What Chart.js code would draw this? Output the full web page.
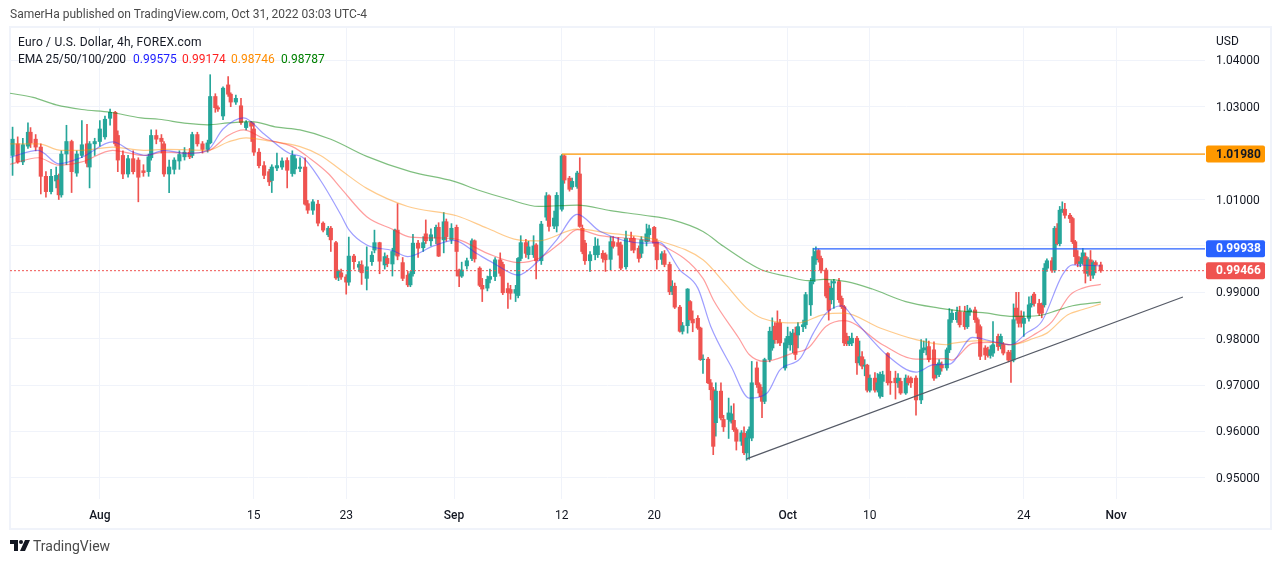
<!DOCTYPE html>
<html>
<head>
<meta charset="utf-8">
<title>EUR/USD 4h</title>
<script src="https://cdn.jsdelivr.net/npm/chart.js@4"></script>
<style>
  body { margin: 0; background: #fff; font-family: Roboto, sans-serif; font-size: 12px; color: #131722; }
  #box { position: relative; width: 1280px; height: 563px; overflow: hidden; }
  #box canvas { position: absolute; left: 0; top: 0; }
  .txt { position: absolute; white-space: nowrap; line-height: 14px; }
  #frame { position: absolute; left: 9px; top: 26px; width: 1259px; height: 500px; border: 2px solid #f0f3fa; }
</style>
</head>
<body>
<div id="box">
  <div id="frame"></div>
  <canvas id="chart" width="1280" height="563"></canvas>
  <div class="txt" style="left:10px;top:7px;color:#4a4a4a">SamerHa published on TradingView.com, Oct 31, 2022 03:03 UTC-4</div>
  <div class="txt" style="left:18px;top:35px;letter-spacing:0.2px">Euro / U.S. Dollar, 4h, FOREX.com</div>
  <div class="txt" style="left:18px;top:52px;letter-spacing:-0.15px">EMA 25/50/100/200</div>
  <div class="txt" style="left:133px;top:52px;color:#2020ff">0.99575</div>
  <div class="txt" style="left:182px;top:52px;color:#ff2020">0.99174</div>
  <div class="txt" style="left:231px;top:52px;color:#ff8c00">0.98746</div>
  <div class="txt" style="left:281px;top:52px;color:#008000">0.98787</div>
  <div class="txt" style="left:1216px;top:34px">USD</div>
  <svg style="position:absolute;left:10px;top:540px" width="20" height="11" viewBox="0 0 20 11">
    <path d="M0 0h8v11H4V4H0z M15 0h5l-5 11h-5z" fill="#131722"/><circle cx="11" cy="2" r="2" fill="#131722"/>
  </svg>
  <div class="txt" style="left:33px;top:538px;font-size:14px;line-height:16px;color:#4a4a4a">TradingView</div>
</div>
<script>
// 4h bar numbers counted from the left edge of the chart
const bars = [
  1,3,5,7,8,10,12,14,16,18, 19,20,22,24,26,28,30,31,33,35,
  37,39,41,42,44,46,48,50,52,54, 55,57,59,60,62,64,66,68,70,71,
  73,75,77,78,80,81,83,85,86,88, 90,92,94,95,97,99,101,102,104,106,
  108,110,111,113,115,116,118,120,122,124, 125,127,128,129,131,132,134,136,137,139,
  141,142,144,146,147,149,150,151,153,155, 156,157,159,161,162,164,166,167,169,170,
  172,174,175,176,178,180,181,183,184,186, 187,189,191,192,194,195,197,198,199,201,
  202,204,205,207,209,210,212,213,215,216, 218,219,221,222,223,224,226,228,229,231,
  232,234,235,237,238,240,242,243,245,246, 248,249,251,252,254,255,257,258,259,261,
  262,264,265,266,268,269,270,272,273,274, 275,277,278,280,281,282,283,285,286,287,
  288,289,291,292,293,294,296,297,298,299, 300,302,303,304,305,306,307,309,310,312,
  313,314,315,316,318,319,320,321,323,324, 325,326,327,328,330,331,332,333,334,335,
  337,338,339,340,342,343,345,346,347,349, 350,351,353,355,356,357,358,360,361,362,
  363,365,366,367,369,370,372,373,374,376, 377,378,380,381,382,383,385,386,387,389,
  390,391,392,393,394,395,397,398,399,401, 402,403,404,406,407,408,409,410,411,413,
  414,415,416,417,418,419,420,421,422,423, 425
];
const opens = [
  1.0195,1.0220,1.0181,1.0215,1.0245,1.0230,1.0213,1.0150,1.0117,1.0140,
  1.0142,1.0110,1.0198,1.0225,1.0157,1.0195,1.0220,1.0170,1.0220,1.0225,
  1.0235,1.0275,1.0288,1.0238,1.0195,1.0155,1.0188,1.0185,1.0162,1.0160,
  1.0190,1.0238,1.0232,1.0220,1.0155,1.0165,1.0183,1.0192,1.0202,1.0195,
  1.0240,1.0220,1.0208,1.0222,1.0322,1.0298,1.0280,1.0347,1.0327,1.0310,
  1.0302,1.0255,1.0266,1.0252,1.0202,1.0173,1.0160,1.0141,1.0168,1.0170,
  1.0184,1.0156,1.0166,1.0167,1.0170,1.0091,1.0077,1.0090,1.0049,1.0024,
  1.0038,1.0007,0.9933,0.9942,0.9933,0.9922,0.9978,0.9954,0.9959,0.9930,
  0.9966,0.9991,1.0007,0.9959,0.9973,0.9961,0.9988,1.0034,0.9964,0.9937,
  0.9916,0.9940,1.0006,0.9996,1.0026,1.0011,1.0017,1.0040,1.0013,1.0052,
  1.0013,1.0040,0.9948,0.9935,0.9957,0.9973,1.0011,0.9952,0.9915,0.9909,
  0.9928,0.9934,0.9970,0.9960,0.9908,0.9906,0.9898,0.9893,0.9973,1.0007,
  0.9981,0.9981,1.0002,0.9968,1.0062,1.0108,1.0043,1.0043,1.0079,1.0194,
  1.0146,1.0127,1.0128,1.0155,1.0038,1.0006,0.9968,0.9981,0.9981,0.9984,
  0.9981,0.9971,1.0009,1.0007,1.0002,0.9955,1.0016,1.0016,0.9995,0.9984,
  1.0009,1.0024,1.0040,1.0009,0.9971,0.9983,0.9960,0.9902,0.9913,0.9868,
  0.9816,0.9828,0.9880,0.9842,0.9844,0.9823,0.9755,0.9756,0.9705,0.9690,
  0.9619,0.9687,0.9626,0.9626,0.9622,0.9624,0.9604,0.9579,0.9596,0.9554,
  0.9586,0.9586,0.9737,0.9701,0.9687,0.9665,0.9755,0.9780,0.9827,0.9834,
  0.9834,0.9737,0.9791,0.9787,0.9787,0.9812,0.9808,0.9826,0.9830,0.9873,
  0.9923,0.9970,0.9990,0.9973,0.9948,0.9913,0.9884,0.9920,0.9923,0.9887,
  0.9869,0.9805,0.9789,0.9791,0.9801,0.9748,0.9761,0.9741,0.9743,0.9689,
  0.9715,0.9690,0.9676,0.9708,0.9768,0.9708,0.9715,0.9705,0.9708,0.9683,
  0.9715,0.9715,0.9715,0.9668,0.9776,0.9776,0.9783,0.9776,0.9723,0.9723,
  0.9744,0.9737,0.9776,0.9841,0.9841,0.9858,0.9857,0.9826,0.9858,0.9862,
  0.9841,0.9826,0.9780,0.9776,0.9764,0.9769,0.9805,0.9785,0.9787,0.9771,
  0.9769,0.9754,0.9866,0.9848,0.9849,0.9833,0.9844,0.9873,0.9896,0.9876,
  0.9873,0.9873,0.9952,0.9968,0.9948,1.0038,1.0005,1.0077,1.0079,1.0066,
  1.0059,1.0009,0.9977,0.9962,0.9966,0.9977,0.9941,0.9970,0.9937,0.9964,0.9959
];
const highs = [
  1.0256,1.0235,1.0232,1.0265,1.0255,1.0240,1.0220,1.0160,1.0165,1.0170,
  1.0155,1.0205,1.0260,1.0228,1.0205,1.0270,1.0262,1.0225,1.0232,1.0270,
  1.0280,1.0295,1.0290,1.0248,1.0205,1.0195,1.0205,1.0190,1.0175,1.0198,
  1.0250,1.0250,1.0240,1.0225,1.0185,1.0190,1.0205,1.0212,1.0210,1.0245,
  1.0245,1.0225,1.0228,1.0369,1.0328,1.0302,1.0343,1.0365,1.0330,1.0325,
  1.0318,1.0270,1.0268,1.0265,1.0210,1.0182,1.0165,1.0175,1.0200,1.0190,
  1.0190,1.0205,1.0195,1.0190,1.0190,1.0098,1.0100,1.0098,1.0052,1.0042,
  1.0042,1.0010,0.9948,0.9950,0.9938,1.0019,0.9982,0.9966,0.9968,0.9998,
  0.9988,1.0034,1.0008,0.9985,0.9980,0.9995,1.0036,1.0091,0.9975,0.9945,
  0.9945,1.0025,1.0012,1.0020,1.0056,1.0037,1.0045,1.0050,1.0072,1.0058,
  1.0048,1.0045,0.9950,0.9965,0.9974,1.0015,1.0013,0.9955,0.9930,0.9935,
  0.9950,0.9975,0.9985,0.9965,0.9920,0.9915,0.9915,0.9975,1.0022,1.0014,
  1.0010,1.0022,1.0005,1.0053,1.0115,1.0110,1.0075,1.0115,1.0197,1.0196,
  1.0150,1.0146,1.0161,1.0190,1.0045,1.0012,0.9988,1.0018,1.0015,0.9990,
  0.9985,1.0020,1.0020,1.0018,1.0008,1.0032,1.0030,1.0020,1.0000,1.0020,
  1.0047,1.0045,1.0042,1.0015,0.9988,0.9990,0.9965,0.9925,0.9920,0.9872,
  0.9835,0.9908,0.9882,0.9860,0.9850,0.9825,0.9765,0.9760,0.9712,0.9695,
  0.9705,0.9705,0.9635,0.9672,0.9655,0.9660,0.9608,0.9602,0.9610,0.9600,
  0.9610,0.9751,0.9750,0.9705,0.9695,0.9758,0.9825,0.9845,0.9835,0.9860,
  0.9842,0.9800,0.9825,0.9815,0.9820,0.9825,0.9835,0.9840,0.9900,0.9930,
  0.9995,0.9998,0.9993,0.9978,0.9952,0.9920,0.9925,0.9928,0.9930,0.9892,
  0.9872,0.9812,0.9805,0.9812,0.9805,0.9795,0.9772,0.9755,0.9745,0.9722,
  0.9727,0.9725,0.9728,0.9730,0.9770,0.9730,0.9730,0.9725,0.9715,0.9722,
  0.9720,0.9718,0.9720,0.9798,0.9795,0.9800,0.9795,0.9793,0.9745,0.9755,
  0.9750,0.9780,0.9865,0.9862,0.9868,0.9870,0.9870,0.9872,0.9866,0.9868,
  0.9845,0.9830,0.9785,0.9782,0.9785,0.9837,0.9810,0.9810,0.9792,0.9775,
  0.9775,0.9875,0.9900,0.9900,0.9860,0.9858,0.9890,0.9892,0.9900,0.9885,
  0.9877,0.9962,0.9972,0.9975,1.0042,1.0048,1.0085,1.0095,1.0092,1.0070,
  1.0062,1.0012,0.9990,0.9975,0.9995,0.9985,0.9975,0.9990,0.9968,0.9968,0.9965
];
const lows = [
  1.0152,1.0178,1.0175,1.0210,1.0212,1.0205,1.0112,1.0105,1.0112,1.0125,
  1.0100,1.0105,1.0175,1.0115,1.0150,1.0190,1.0170,1.0125,1.0195,1.0215,
  1.0230,1.0260,1.0215,1.0160,1.0145,1.0148,1.0155,1.0095,1.0150,1.0150,
  1.0185,1.0220,1.0200,1.0150,1.0115,1.0155,1.0165,1.0185,1.0188,1.0190,
  1.0215,1.0200,1.0202,1.0220,1.0288,1.0290,1.0272,1.0322,1.0300,1.0305,
  1.0262,1.0250,1.0225,1.0195,1.0168,1.0145,1.0130,1.0115,1.0162,1.0165,
  1.0125,1.0150,1.0155,1.0160,1.0088,1.0070,1.0068,1.0043,1.0030,1.0020,
  0.9988,0.9928,0.9925,0.9928,0.9896,0.9915,0.9950,0.9945,0.9917,0.9905,
  0.9958,0.9985,0.9940,0.9950,0.9955,0.9935,0.9980,0.9970,0.9925,0.9912,
  0.9912,0.9935,0.9975,0.9988,1.0005,1.0000,1.0005,0.9977,0.9985,1.0010,
  1.0005,0.9935,0.9912,0.9932,0.9950,0.9968,0.9965,0.9912,0.9880,0.9903,
  0.9920,0.9925,0.9935,0.9895,0.9865,0.9885,0.9880,0.9888,0.9968,0.9975,
  0.9972,0.9975,0.9929,0.9960,1.0055,1.0032,1.0037,1.0030,1.0075,1.0135,
  1.0118,1.0122,1.0124,1.0040,0.9983,0.9960,0.9945,0.9970,0.9975,0.9965,
  0.9945,0.9948,0.9995,0.9980,0.9948,0.9950,0.9990,0.9985,0.9965,0.9975,
  1.0000,1.0010,0.9999,0.9950,0.9960,0.9955,0.9895,0.9895,0.9865,0.9814,
  0.9810,0.9812,0.9840,0.9815,0.9820,0.9753,0.9725,0.9703,0.9668,0.9550,
  0.9590,0.9625,0.9600,0.9585,0.9618,0.9600,0.9560,0.9570,0.9550,0.9538,
  0.9540,0.9580,0.9695,0.9675,0.9630,0.9660,0.9750,0.9775,0.9790,0.9790,
  0.9785,0.9732,0.9780,0.9775,0.9770,0.9755,0.9780,0.9815,0.9822,0.9850,
  0.9918,0.9960,0.9965,0.9942,0.9888,0.9840,0.9875,0.9865,0.9878,0.9865,
  0.9785,0.9785,0.9785,0.9785,0.9723,0.9743,0.9735,0.9720,0.9685,0.9685,
  0.9685,0.9685,0.9672,0.9675,0.9700,0.9680,0.9670,0.9695,0.9680,0.9680,
  0.9700,0.9695,0.9635,0.9660,0.9770,0.9765,0.9750,0.9710,0.9715,0.9718,
  0.9730,0.9732,0.9770,0.9835,0.9835,0.9825,0.9820,0.9822,0.9850,0.9835,
  0.9800,0.9755,0.9755,0.9760,0.9758,0.9762,0.9775,0.9778,0.9765,0.9750,
  0.9706,0.9750,0.9840,0.9825,0.9825,0.9805,0.9838,0.9868,0.9870,0.9850,
  0.9845,0.9868,0.9945,0.9943,0.9943,1.0002,1.0000,1.0072,1.0060,1.0050,
  1.0005,0.9960,0.9955,0.9955,0.9960,0.9920,0.9935,0.9925,0.9930,0.9942,0.9943
];
const closes = [
  1.0230,1.0181,1.0218,1.0245,1.0222,1.0213,1.0150,1.0117,1.0150,1.0152,
  1.0110,1.0198,1.0225,1.0160,1.0198,1.0218,1.0178,1.0220,1.0225,1.0252,
  1.0273,1.0288,1.0220,1.0185,1.0155,1.0188,1.0160,1.0148,1.0158,1.0192,
  1.0238,1.0230,1.0225,1.0155,1.0170,1.0185,1.0197,1.0202,1.0192,1.0240,
  1.0220,1.0208,1.0222,1.0322,1.0298,1.0295,1.0340,1.0327,1.0310,1.0318,
  1.0266,1.0266,1.0258,1.0202,1.0173,1.0152,1.0138,1.0170,1.0173,1.0183,
  1.0163,1.0195,1.0188,1.0170,1.0090,1.0077,1.0095,1.0049,1.0034,1.0038,
  1.0013,0.9931,0.9945,0.9933,0.9922,0.9978,0.9966,0.9960,0.9942,0.9955,
  0.9980,1.0007,0.9967,0.9977,0.9962,0.9988,1.0034,0.9978,0.9930,0.9916,
  0.9940,1.0006,0.9995,1.0007,1.0011,1.0024,1.0040,0.9978,1.0052,1.0020,
  1.0038,0.9988,0.9935,0.9948,0.9968,1.0011,0.9972,0.9915,0.9907,0.9928,
  0.9934,0.9970,0.9941,0.9899,0.9899,0.9898,0.9906,0.9973,1.0007,0.9984,
  0.9998,1.0000,0.9968,1.0047,1.0108,1.0042,1.0060,1.0109,1.0194,1.0142,
  1.0122,1.0139,1.0157,1.0042,0.9988,0.9968,0.9981,0.9999,1.0000,0.9973,
  0.9970,1.0009,0.9999,0.9999,0.9952,1.0016,1.0009,0.9991,0.9973,1.0013,
  1.0026,1.0037,1.0006,0.9970,0.9983,0.9960,0.9901,0.9913,0.9868,0.9816,
  0.9828,0.9907,0.9841,0.9834,0.9823,0.9755,0.9756,0.9705,0.9690,0.9568,
  0.9687,0.9629,0.9610,0.9640,0.9638,0.9604,0.9579,0.9597,0.9554,0.9586,
  0.9604,0.9705,0.9701,0.9683,0.9665,0.9755,0.9816,0.9816,0.9798,0.9798,
  0.9791,0.9791,0.9805,0.9805,0.9812,0.9766,0.9826,0.9830,0.9895,0.9923,
  0.9977,0.9988,0.9973,0.9948,0.9892,0.9861,0.9909,0.9923,0.9884,0.9869,
  0.9791,0.9789,0.9795,0.9801,0.9748,0.9761,0.9741,0.9743,0.9689,0.9715,
  0.9689,0.9705,0.9723,0.9722,0.9705,0.9705,0.9705,0.9715,0.9683,0.9715,
  0.9705,0.9705,0.9668,0.9776,0.9780,0.9780,0.9755,0.9715,0.9741,0.9748,
  0.9737,0.9776,0.9841,0.9855,0.9857,0.9830,0.9826,0.9858,0.9862,0.9841,
  0.9812,0.9762,0.9765,0.9764,0.9776,0.9787,0.9783,0.9805,0.9769,0.9754,
  0.9754,0.9841,0.9848,0.9833,0.9835,0.9844,0.9873,0.9876,0.9876,0.9855,
  0.9855,0.9952,0.9968,0.9948,1.0038,1.0005,1.0077,1.0079,1.0066,1.0059,
  1.0009,0.9977,0.9962,0.9966,0.9985,0.9941,0.9970,0.9937,0.9964,0.9959,0.9947
];

// EMA lines, read at the turning points
const ema25Bars = [0,11,19,28,40,48,53,60,69,77,83,91,99,109,114,121,129,132,139,149,155,165,173,182,188,198,205,213,221,230,247,253,261,268,273,281,288,295,300,308,313,318,324,330,342,353,360,366,375,383,390,396,402,410,414,425];
const ema25 = [1.0191,1.0206,1.0177,1.0191,1.0224,1.0202,1.0195,1.0206,1.0199,1.0206,1.0252,1.0276,1.0241,1.0199,1.0191,1.0141,1.0066,1.0035,1.0002,0.9990,0.9977,1.0000,1.0012,0.9983,0.9964,0.9937,0.9963,1.0013,1.0068,1.0031,1.0006,1.0007,0.9948,0.9909,0.9827,0.9740,0.9672,0.9683,0.9733,0.9758,0.9812,0.9855,0.9871,0.9834,0.9763,0.9728,0.9744,0.9745,0.9803,0.9794,0.9787,0.9812,0.9837,0.9937,0.9959,0.9957];
const ema50Bars = [0,11,19,28,40,52,60,69,77,85,91,99,110,117,124,129,139,149,156,169,175,186,198,206,215,221,230,247,253,270,274,284,288,294,305,311,318,325,340,353,365,367,375,383,390,400,406,413,418,425];
const ema50 = [1.0176,1.0190,1.0174,1.0181,1.0206,1.0195,1.0202,1.0200,1.0204,1.0238,1.0250,1.0231,1.0214,1.0188,1.0156,1.0124,1.0063,1.0036,1.0019,1.0017,1.0013,0.9984,0.9964,0.9973,1.0009,1.0035,1.0022,1.0013,1.0004,0.9930,0.9884,0.9801,0.9766,0.9751,0.9769,0.9780,0.9827,0.9839,0.9787,0.9756,0.9757,0.9754,0.9790,0.9792,0.9787,0.9812,0.9837,0.9894,0.9909,0.9917];
const ema100Bars = [0,11,20,28,40,52,61,77,85,92,100,113,121,129,139,155,174,186,198,206,221,234,247,253,270,279,287,293,307,317,325,339,353,365,367,378,390,399,404,412,418,425];
const ema100 = [1.0220,1.0220,1.0206,1.0206,1.0213,1.0206,1.0208,1.0206,1.0224,1.0233,1.0227,1.0214,1.0195,1.0163,1.0124,1.0085,1.0065,1.0038,1.0013,1.0011,1.0036,1.0027,1.0019,1.0011,0.9970,0.9916,0.9866,0.9844,0.9834,0.9852,0.9855,0.9823,0.9798,0.9787,0.9790,0.9796,0.9787,0.9801,0.9812,0.9851,0.9863,0.9875];
const ema200Bars = [0,9,18,28,39,51,58,69,77,85,94,104,113,125,139,156,173,182,194,206,221,234,247,258,270,278,287,293,303,311,317,326,336,349,362,370,379,391,401,408,414,425];
const ema200 = [1.0329,1.0320,1.0304,1.0294,1.0288,1.0276,1.0273,1.0264,1.0261,1.0265,1.0268,1.0256,1.0250,1.0230,1.0193,1.0160,1.0139,1.0121,1.0101,1.0085,1.0088,1.0076,1.0066,1.0056,1.0031,0.9999,0.9966,0.9948,0.9934,0.9925,0.9928,0.9923,0.9907,0.9880,0.9866,0.9860,0.9856,0.9848,0.9850,0.9861,0.9871,0.9879];

// drawn levels and the trend line
const resistanceHigh = 1.0198;
const resistanceHighFrom = 215;
const resistanceLow = 0.99938;
const resistanceLowFrom = 313;
const lastPrice = 0.99466;
const trendBars = [287, 457];
const trendPrices = [0.9541, 0.9890];

// axes
const lastBar = 465.6;
const priceMin = 0.94545;
const priceMax = 1.04718;
const priceTicks = [0.95, 0.96, 0.97, 0.98, 0.99, 1.00, 1.01, 1.02, 1.03, 1.04];
const timeTicks = [35, 95, 131, 173, 215, 251, 303, 335, 395, 431];
const timeLabels = ['Aug', '15', '23', 'Sep', '12', '20', 'Oct', '10', '24', 'Nov'];

const tagPrices = [1.0198, 0.99938, 0.99466];
const tagLabels = ['1.01980', '0.99938', '0.99466'];
const tagColors = ['#ff9800', '#2962ff', '#ef5350'];
const tagTextColors = ['#131722', '#ffffff', '#ffffff'];

const UP = '#26a69a';
const DOWN = '#ef5350';
const candleColors = bars.map((b, i) => closes[i] >= opens[i] ? UP : DOWN);

function zipLine(xs, ys) {
    return xs.map((x, i) => ({ x: x, y: ys[i] }));
}

function emaDataset(xs, ys, color) {
    return {
        type: 'line',
        data: zipLine(xs, ys),
        borderColor: color,
        borderWidth: 1.2,
        pointRadius: 0,
        cubicInterpolationMode: 'monotone',
        order: 1
    };
}

function levelDataset(xs, ys, color, width, dash) {
    return {
        type: 'line',
        data: zipLine(xs, ys),
        borderColor: color,
        borderWidth: width,
        borderDash: dash || [],
        pointRadius: 0,
        order: 0
    };
}

// price tags on the right axis
const priceTagPlugin = {
    id: 'priceTags',
    afterDraw(chart) {
        const ctx = chart.ctx;
        const y = chart.scales.y;
        ctx.save();
        ctx.font = 'bold 12px Roboto, sans-serif';
        ctx.textBaseline = 'middle';
        tagPrices.forEach((p, i) => {
            const py = y.getPixelForValue(p);
            ctx.fillStyle = tagColors[i];
            ctx.beginPath();
            ctx.roundRect(1206, py - 8.5, 59, 17, 2);
            ctx.fill();
            ctx.fillStyle = tagTextColors[i];
            ctx.fillText(tagLabels[i], 1216, py + 0.5);
        });
        ctx.restore();
    }
};

new Chart(document.getElementById('chart').getContext('2d'), {
    type: 'bar',
    plugins: [priceTagPlugin],
    data: {
        datasets: [
            levelDataset([0, lastBar], [lastPrice, lastPrice], '#ef5350', 1, [2, 2]),
            levelDataset([resistanceHighFrom, lastBar], [resistanceHigh, resistanceHigh], '#ff9800', 1.2),
            levelDataset([resistanceLowFrom, lastBar], [resistanceLow, resistanceLow], '#2962ff', 1.2),
            levelDataset(trendBars, trendPrices, '#555a66', 1.2),
            emaDataset(ema25Bars, ema25, 'rgba(40,40,255,0.45)'),
            emaDataset(ema50Bars, ema50, 'rgba(255,40,40,0.45)'),
            emaDataset(ema100Bars, ema100, 'rgba(255,140,0,0.45)'),
            emaDataset(ema200Bars, ema200, 'rgba(0,128,0,0.5)'),
            {
                data: bars.map((b, i) => ({ x: b, y: [opens[i], closes[i]] })),
                backgroundColor: candleColors,
                barThickness: 3.5,
                order: 2
            },
            {
                data: bars.map((b, i) => ({ x: b, y: [lows[i], highs[i]] })),
                backgroundColor: candleColors,
                barThickness: 1,
                order: 3
            }
        ]
    },
    options: {
        responsive: false,
        devicePixelRatio: 1,
        animation: false,
        layout: { padding: { left: 10, right: 11, top: 27, bottom: 36 } },
        plugins: { legend: { display: false }, tooltip: { enabled: false } },
        datasets: { bar: { grouped: false } },
        scales: {
            x: {
                type: 'linear',
                min: 0,
                max: lastBar,
                offset: false,
                afterBuildTicks: scale => { scale.ticks = timeTicks.map(v => ({ value: v })); },
                afterFit: scale => { scale.height = 28; },
                grid: { color: '#f0f3fa', offset: false, drawTicks: false },
                border: { display: false },
                ticks: {
                    autoSkip: false,
                    maxRotation: 0,
                    padding: 10,
                    color: '#131722',
                    font: ctx => ({
                        family: 'Roboto, sans-serif',
                        size: 12,
                        weight: isNaN(timeLabels[ctx.index]) ? '500' : '400'
                    }),
                    callback: (v, i) => timeLabels[i]
                }
            },
            y: {
                position: 'right',
                min: priceMin,
                max: priceMax,
                afterBuildTicks: scale => { scale.ticks = priceTicks.map(v => ({ value: v })); },
                afterFit: scale => { scale.width = 64; },
                grid: { color: '#f0f3fa', drawTicks: false },
                border: { display: false },
                ticks: {
                    padding: 11,
                    labelOffset: 1,
                    color: '#131722',
                    font: { family: 'Roboto, sans-serif', size: 12 },
                    callback: v => v.toFixed(5)
                }
            }
        }
    }
});
</script>
</body>
</html>
